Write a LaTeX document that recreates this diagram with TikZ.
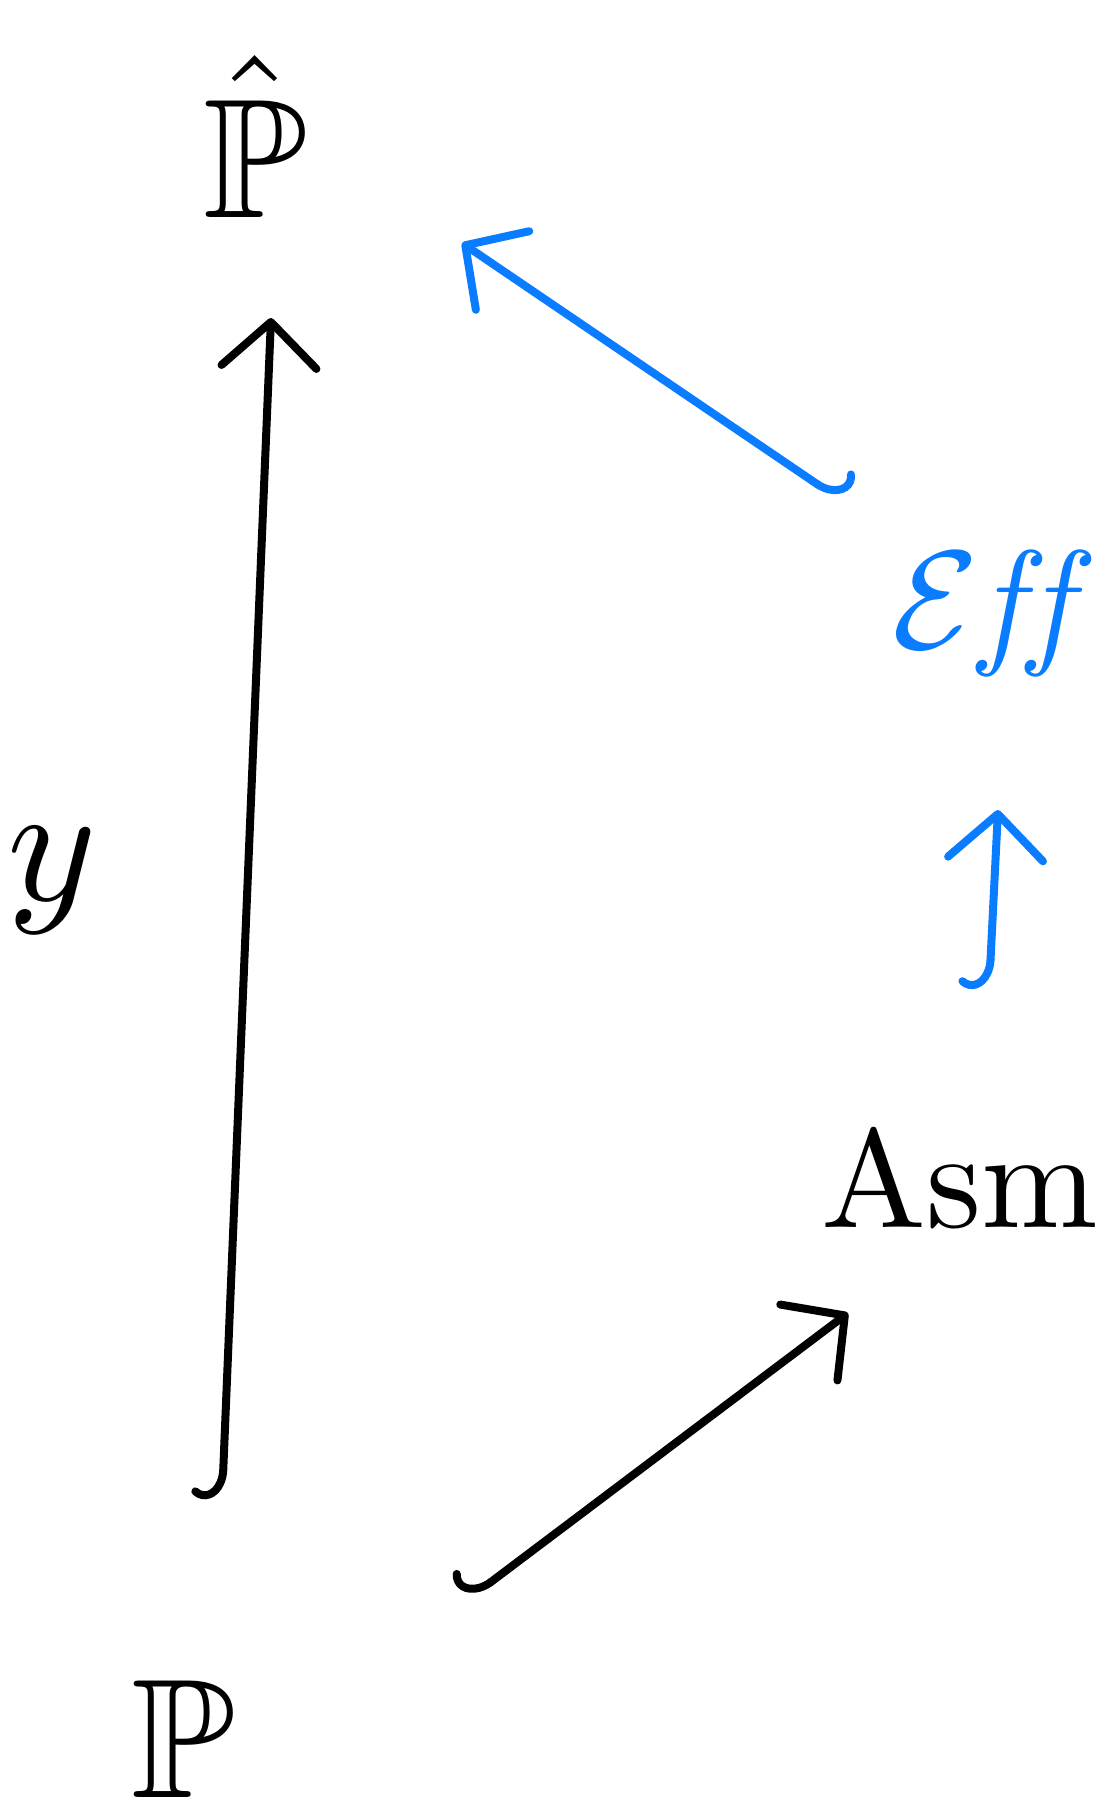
\documentclass[tikz,border=0pt]{standalone}
\usepackage{amssymb}
\usetikzlibrary{arrows.meta}
\definecolor{penblue}{HTML}{0A7CFF}
\begin{document}
\begin{tikzpicture}[x=1pt,y=-1pt,
  lbl/.style={inner sep=0pt, outer sep=0pt},
  pen/.style={line width=8pt, line cap=round},
  hookL/.style={pen,{Hooks[left,arc=120,length=30pt,width=80pt,line cap=round]}-{Straight Barb[length=45pt,width=95pt,line cap=round,round]}},
  hookR/.style={pen,{Hooks[right,arc=120,length=30pt,width=80pt,line cap=round]}-{Straight Barb[length=45pt,width=95pt,line cap=round,round]}}]
\useasboundingbox (0,0) rectangle (1101,1807);
\node[lbl, scale=17, anchor=base] (hatP) at (255,217) {$\hat{\mathbb{P}}$};
\node[lbl, scale=17] (P) at (183,1739) {$\mathbb{P}$};
\node[lbl, scale=17] (y) at (52,880) {$y$};
\node[lbl, scale=14] (Asm) at (960,1178) {Asm};
\node[lbl, scale=14, text=penblue] (Eff) at (997,613) {$\mathcal{E}\mathit{f\!f}$};
\coordinate (a1) at (222,1500);
\coordinate (a2) at (271,318);
\coordinate (b1) at (467,1600);
\coordinate (b2) at (848,1313);
\coordinate (c1) at (989,990);
\coordinate (c2) at (998,810);
\coordinate (d1) at (842,501);
\coordinate (d2) at (462,243);
\draw[hookR] (a1) -- (a2);
\draw[hookR] (b1) -- (b2);
\draw[penblue, hookR] (c1) -- (c2);
\draw[penblue, hookL] (d1) -- (d2);
\end{tikzpicture}
\end{document}
